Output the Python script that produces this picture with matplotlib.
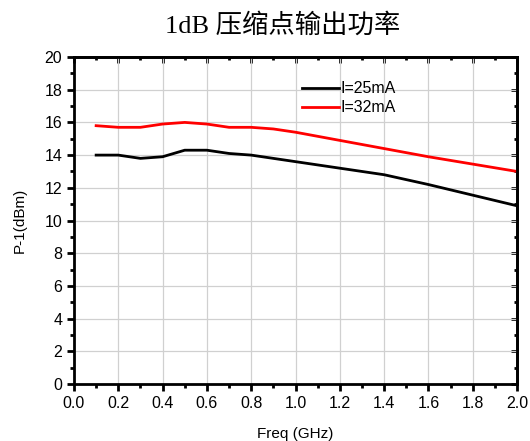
import matplotlib
matplotlib.use("Agg")
import matplotlib.pyplot as plt
from matplotlib.ticker import MultipleLocator

freq = [0.1, 0.2, 0.3, 0.4, 0.5, 0.6, 0.7, 0.8, 0.9, 1.0, 1.2, 1.4, 1.5, 1.6, 1.8, 2.0]
p1_25 = [14.0, 14.0, 13.8, 13.9, 14.3, 14.3, 14.1, 14.0, 13.8, 13.6, 13.2, 12.8, 12.5, 12.2, 11.55, 10.9]
p1_32 = [15.8, 15.7, 15.7, 15.9, 16.0, 15.9, 15.7, 15.7, 15.6, 15.4, 14.9, 14.4, 14.15, 13.9, 13.45, 13.0]
labels = ["I=25mA", "I=32mA"]
title = "1dB 压缩点输出功率"

plt.rcParams['font.family'] = ['Liberation Sans', 'DejaVu Sans']
fig = plt.figure(figsize=(5.3, 4.41), dpi=100)
ax = fig.add_axes([0.1396, 0.1293, 0.8359, 0.7414])

ax.plot(freq, p1_25, color='black', lw=2, label=labels[0])
ax.plot(freq, p1_32, color='red', lw=2, label=labels[1])

ax.set_xlim(0, 2.0)
ax.set_ylim(0, 20)
ax.xaxis.set_major_locator(MultipleLocator(0.2))
ax.xaxis.set_minor_locator(MultipleLocator(0.1))
ax.yaxis.set_major_locator(MultipleLocator(2))
ax.yaxis.set_minor_locator(MultipleLocator(1))
ax.set_xticklabels([f"{v:.1f}" for v in ax.get_xticks()])
ax.grid(True, which='major', color='#d0d0d0', lw=0.9)
ax.set_axisbelow(True)
for s in ax.spines.values():
    s.set_linewidth(2)
ax.tick_params(which='major', direction='out', length=5, width=2, labelsize=11.5,
               top=False, right=False)
ax.tick_params(which='minor', direction='out', length=3, width=2, top=False, right=False)

# inward ticks on top and right
axt = ax.secondary_xaxis('top')
axt.xaxis.set_major_locator(MultipleLocator(0.2))
axt.xaxis.set_minor_locator(MultipleLocator(0.1))
axt.tick_params(which='major', direction='in', length=4, width=2, labeltop=False)
axt.tick_params(which='minor', direction='in', length=2, width=2)
axt.set_xticklabels([])
axr = ax.secondary_yaxis('right')
axr.yaxis.set_major_locator(MultipleLocator(2))
axr.yaxis.set_minor_locator(MultipleLocator(1))
axr.tick_params(which='major', direction='in', length=4, width=2, labelright=False)
axr.tick_params(which='minor', direction='in', length=2, width=2)
axr.set_yticklabels([])
for sec in (axt, axr):
    for s in sec.spines.values():
        s.set_linewidth(2)

ax.set_xlabel("Freq (GHz)", fontsize=11, labelpad=12)
ax.set_ylabel("P-1(dBm)", fontsize=11, labelpad=13)
fig.text(0.534, 0.943, title, ha='center', va='center', fontsize=19,
         family=['Liberation Serif', 'Noto Sans CJK SC'])

ax.legend(loc='upper left', bbox_to_anchor=(0.5, 0.945), frameon=False, fontsize=11.5,
          handlelength=2.3, handletextpad=0.1, labelspacing=0.25, borderaxespad=0)

fig.savefig("out.png", dpi=100)
